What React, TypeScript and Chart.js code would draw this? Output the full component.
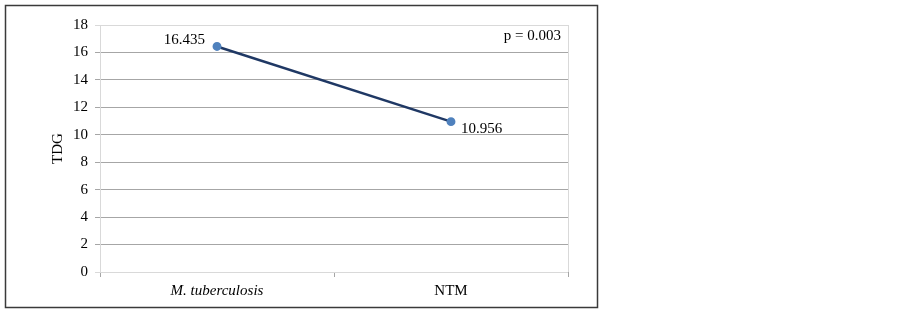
import React, { useEffect, useRef } from "react";
import { Chart, registerables } from "chart.js";

Chart.register(...registerables);

const categories = ["M. tuberculosis", "NTM"];
const tdgValues = [16.435, 10.956];
const valueLabels = ["16.435", "10.956"];
const pValueLabel = "p = 0.003";
const yTitle = "TDG";

const FONT = "'Liberation Serif', 'Times New Roman', serif";

export default function App() {
  const ref = useRef<HTMLCanvasElement | null>(null);

  useEffect(() => {
    document.body.style.margin = "0";
    const canvas = ref.current!;
    const framePlugin = {
      id: "frame",
      beforeDraw(chart: any) {
        const ctx = chart.ctx;
        ctx.save();
        ctx.fillStyle = "#ffffff";
        ctx.fillRect(0, 0, chart.width, chart.height);
        ctx.strokeStyle = "#3a3a3a";
        ctx.lineWidth = 1.5;
        ctx.strokeRect(5.5, 5.5, 592, 302);
        ctx.restore();
      },
      afterDraw(chart: any) {
        const ctx = chart.ctx;
        const a = chart.chartArea;
        ctx.save();
        ctx.strokeStyle = "#d9d9d9";
        ctx.lineWidth = 1;
        ctx.beginPath();
        ctx.moveTo(Math.round(a.right) + 0.5, a.top);
        ctx.lineTo(Math.round(a.right) + 0.5, a.bottom);
        ctx.stroke();
        ctx.restore();
      },
      afterDatasetsDraw(chart: any) {
        const ctx = chart.ctx;
        const meta = chart.getDatasetMeta(0);
        const a = chart.chartArea;
        ctx.save();
        ctx.font = `15px ${FONT}`;
        ctx.fillStyle = "#000";
        ctx.textBaseline = "middle";
        const p0 = meta.data[0];
        const p1 = meta.data[1];
        ctx.textAlign = "right";
        ctx.fillText(valueLabels[0], p0.x - 12, p0.y - 6);
        ctx.textAlign = "left";
        ctx.fillText(valueLabels[1], p1.x + 10, p1.y + 7);
        ctx.textAlign = "right";
        ctx.fillText(pValueLabel, a.right - 7, a.top + 11);
        ctx.restore();
      },
    };

    const chart = new Chart(canvas, {
      type: "line",
      data: {
        labels: categories,
        datasets: [
          {
            data: tdgValues,
            borderColor: "#1f3864",
            borderWidth: 2.5,
            pointBackgroundColor: "#4f81bd",
            pointBorderColor: "#4f81bd",
            pointRadius: 3.2,
            tension: 0,
          },
        ],
      },
      options: {
        animation: false,
        responsive: false,
        maintainAspectRatio: false,
        layout: { padding: { left: 5, right: 335, top: 25, bottom: 5 } },
        plugins: {
          legend: { display: false },
          tooltip: { enabled: false },
        },
        scales: {
          x: {
            offset: true,
            afterFit: (s: any) => {
              s.height = 35;
            },
            grid: {
              offset: true,
              drawOnChartArea: false,
              tickLength: 5,
              color: "#a6a6a6",
            },
            border: { display: false },
            ticks: {
              color: "#000",
              padding: 5,
              font: (ctx: any) => ({
                family: FONT,
                size: 15,
                style: ctx.index === 0 ? "italic" : "normal",
              }),
            },
          },
          y: {
            min: 0,
            max: 18,
            afterFit: (s: any) => {
              s.width = 95;
            },
            ticks: {
              stepSize: 2,
              color: "#000",
              padding: 7,
              font: { family: FONT, size: 15 },
            },
            grid: {
              tickLength: 5,
              color: (ctx: any) =>
                ctx.tick && (ctx.tick.value === 0 || ctx.tick.value === 18)
                  ? "#d9d9d9"
                  : "#a6a6a6",
            },
            border: { display: true, color: "#d9d9d9" },
            title: {
              display: true,
              text: yTitle,
              color: "#000",
              font: { family: FONT, size: 15 },
              padding: { top: 44, bottom: 0 },
            },
          },
        },
      },
      plugins: [framePlugin],
    });
    return () => chart.destroy();
  }, []);

  return (
    <div style={{ position: "fixed", left: 0, top: 0 }}>
      <canvas ref={ref} width={903} height={312} style={{ display: "block" }} />
    </div>
  );
}
